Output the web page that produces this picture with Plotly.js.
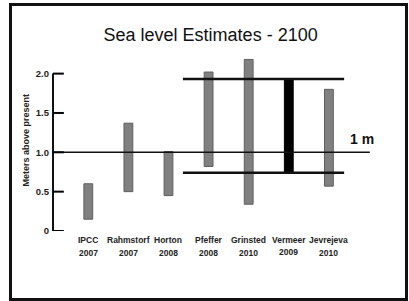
<!DOCTYPE html>
<html>
<head>
<meta charset="utf-8">
<script src="https://cdn.plot.ly/plotly-3.0.1.min.js"></script>
<style>
html,body{margin:0;padding:0;background:#fff;}
#wrap{position:relative;width:409px;height:301px;}
#chart{width:409px;height:301px;}
#frame{position:absolute;left:9px;top:3px;width:393px;height:292px;border:3px solid #111;pointer-events:none;}
</style>
</head>
<body>
<div id="wrap"><div id="chart"></div><div id="frame"></div></div>
<script>
// Data
var studies = ["IPCC", "Rahmstorf", "Horton", "Pfeffer", "Grinsted", "Vermeer", "Jevrejeva"];
var years   = ["2007", "2007", "2008", "2008", "2010", "2009", "2010"];
var lowEst  = [0.15, 0.50, 0.45, 0.82, 0.34, 0.74, 0.57];
var highEst = [0.60, 1.37, 1.01, 2.02, 2.18, 1.93, 1.80];
var oneMetre = 1.0;
var vermeerBand = [0.74, 1.93];
var yTickVals = [0, 0.5, 1.0, 1.5, 2.0];
var yTickText = ["0", "0.5", "1.0", "1.5", "2.0"];
var highlight = "Vermeer";

var idx = studies.map(function(_, i){ return i; });
var spans = highEst.map(function(h, i){ return h - lowEst[i]; });
var colors = studies.map(function(s){ return s === highlight ? "#000000" : "#808080"; });
var edges = studies.map(function(s){ return s === highlight ? "#000000" : "#5e5e5e"; });

var trace = {
  type: "bar",
  x: idx,
  y: spans,
  base: lowEst,
  width: 0.22,
  marker: {color: colors, line: {color: edges, width: 1}},
  hoverinfo: "skip"
};

var xr = [-0.88, 7.05];
var FONT = "Liberation Sans, Arial, sans-serif";
var lblFont = {family: FONT, size: 8.5, color: "#222"};

var annotations = [];
studies.forEach(function(s, i){
  annotations.push({x: i, xref: "x", y: 0, yref: "paper", yanchor: "middle", yshift: -8.5,
    text: "<b>" + s + "</b>", showarrow: false, font: lblFont});
  annotations.push({x: i, xref: "x", y: 0, yref: "paper", yanchor: "middle", yshift: s === highlight ? -20.5 : -21.7,
    text: "<b>" + years[i] + "</b>", showarrow: false, font: lblFont});
});
annotations.push({x: 0, xref: "paper", xanchor: "center", xshift: -28, y: 0.5, yref: "paper",
  yanchor: "middle", textangle: -90, showarrow: false,
  text: "<b>Meters above present</b>", font: {family: FONT, size: 9, color: "#222"}});
annotations.push({x: 7.02, xref: "x", xanchor: "left", xshift: -22, y: oneMetre, yref: "y", yanchor: "bottom", yshift: 3,
  text: "<b>1 m</b>", showarrow: false, font: {family: FONT, size: 14, color: "#111"}});

var shapes = [
  {type: "line", xref: "paper", x0: 0, x1: 0, yref: "y", y0: yTickVals[0], y1: yTickVals[yTickVals.length-1], line: {color: "#111", width: 2}},
  {type: "line", xref: "x", x0: xr[0], x1: 7.02, yref: "y", y0: oneMetre, y1: oneMetre, line: {color: "#111", width: 1.5}},
  {type: "line", xref: "x", x0: 2.36, x1: 6.38, yref: "y", y0: vermeerBand[1], y1: vermeerBand[1], line: {color: "#111", width: 2.5}},
  {type: "line", xref: "x", x0: 2.36, x1: 6.38, yref: "y", y0: vermeerBand[0], y1: vermeerBand[0], line: {color: "#111", width: 2.5}}
];
// tick marks crossing the axis, drawn as shapes in the axis scale
yTickVals.forEach(function(v){
  shapes.push({type: "line", xref: "x", x0: xr[0] - 0.05, x1: xr[0] + 0.27, yref: "y", y0: v, y1: v,
    line: {color: "#000", width: 2}});
});

var layout = {
  width: 409, height: 301,
  margin: {l: 53, r: 38, t: 50, b: 70, pad: 0},
  paper_bgcolor: "#fff", plot_bgcolor: "#fff",
  showlegend: false,
  title: {text: "Sea level Estimates - 2100", x: 0.515, xanchor: "center", y: 0.885, yanchor: "middle",
    font: {family: FONT, size: 18, color: "#111"}},
  xaxis: {range: xr, showgrid: false, zeroline: false, showline: false, showticklabels: false, ticks: "", fixedrange: true},
  yaxis: {range: [0, 2.3], showgrid: false, zeroline: false, showline: false,
    tickvals: yTickVals, ticktext: yTickText.map(function(t){ return "<b>" + t + "</b>"; }), ticks: "",
    ticklabelstandoff: 3,
    tickfont: {family: FONT, size: 9.5, color: "#222"}, fixedrange: true},
  shapes: shapes,
  annotations: annotations
};

Plotly.newPlot("chart", [trace], layout, {staticPlot: true, displayModeBar: false});
</script>
</body>
</html>
